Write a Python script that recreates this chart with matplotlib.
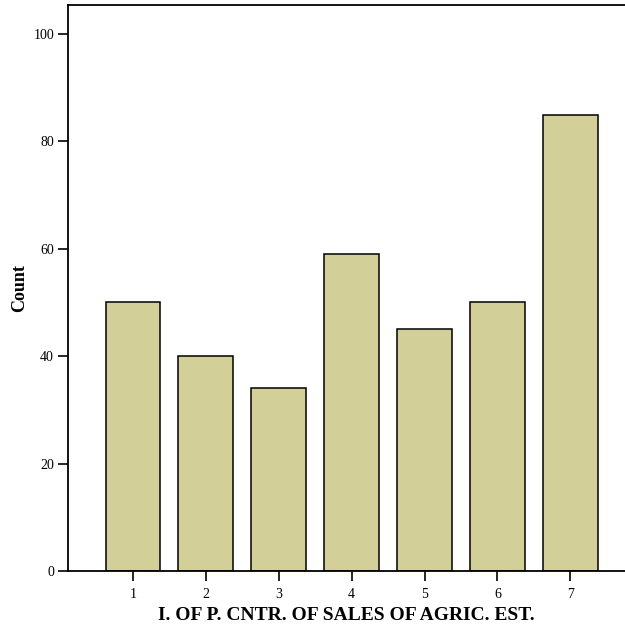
import matplotlib
matplotlib.use('Agg')
import matplotlib.pyplot as plt

# 数据
categories = ['1', '2', '3', '4', '5', '6', '7']
counts = [50, 40, 34, 59, 45, 50, 85]
y_ticks = [0, 20, 40, 60, 80, 100]

plt.rcParams['font.family'] = ['Liberation Serif', 'DejaVu Serif']

fig = plt.figure(figsize=(6.25, 6.3), dpi=100)
ax = fig.add_axes([0.1088, 0.0937, 0.8912, 0.8984])

x = range(1, len(categories) + 1)
ax.bar(x, counts, width=0.75, color='#d3cf98', edgecolor='black', linewidth=1.1)

ax.set_xlim(0.11, 7.75)
ax.set_ylim(0, 105.4)
ax.set_xticks(list(x))
ax.set_xticklabels(categories)
ax.set_yticks(y_ticks)
ax.tick_params(axis='both', labelsize=10, length=7, width=1.2, direction='out')
ax.tick_params(axis='x', pad=5)
ax.tick_params(axis='y', pad=3)

for side in ['left', 'bottom', 'top']:
    ax.spines[side].set_linewidth(1.3)
ax.spines['right'].set_visible(False)

ax.set_xlabel('I. OF P. CNTR. OF SALES OF AGRIC. EST.', fontsize=14, fontweight='bold', labelpad=4.8)
ax.set_ylabel('Count', fontsize=13, fontweight='bold', labelpad=3.6)

fig.savefig('out.png', dpi=100)
